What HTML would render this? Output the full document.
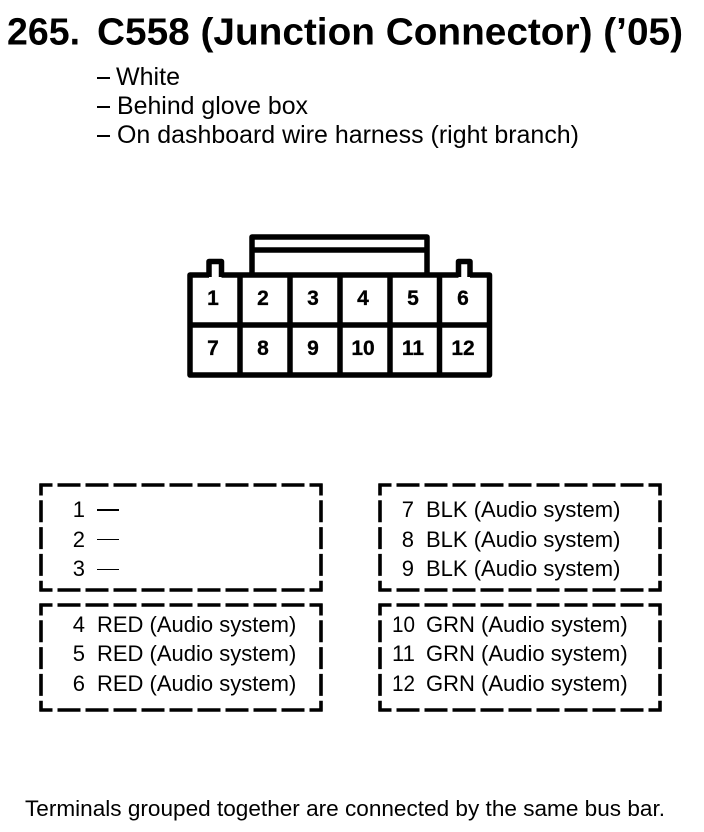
<!DOCTYPE html>
<html>
<head>
<meta charset="utf-8">
<style>
html,body{margin:0;padding:0;background:#fff;width:704px;height:832px;overflow:hidden}
svg{display:block}
text{font-family:"Liberation Sans",sans-serif;fill:#000}
.t{font-size:38px;font-weight:bold}
.s{font-size:24.8px}
.d{font-size:22px}
.n{font-size:22px;text-anchor:end}
.nn{font-size:22px}
.b{font-size:21px;font-weight:bold;text-anchor:middle;stroke:#000;stroke-width:.3px}
.dh{fill:none;stroke:#000;stroke-width:3.6px;stroke-dasharray:23 5;stroke-dashoffset:10}
.dv{fill:none;stroke:#000;stroke-width:3.6px;stroke-dasharray:22 4.8;stroke-dashoffset:10}
</style>
</head>
<body>
<svg width="704" height="832" viewBox="0 0 704 832" xmlns="http://www.w3.org/2000/svg">
<text class="t" x="7" y="44.5" textLength="73" lengthAdjust="spacingAndGlyphs">265.</text>
<text class="t" x="97" y="44.5" textLength="586" lengthAdjust="spacingAndGlyphs">C558 (Junction Connector) (’05)</text>
<rect x="97" y="77" width="13" height="2"/>
<rect x="97" y="106" width="13" height="2"/>
<rect x="97" y="135" width="13" height="2"/>
<text class="s" x="116" y="85" textLength="64" lengthAdjust="spacingAndGlyphs">White</text>
<text class="s" x="117" y="114" textLength="191" lengthAdjust="spacingAndGlyphs">Behind glove box</text>
<text class="s" x="117" y="143" textLength="462" lengthAdjust="spacingAndGlyphs">On dashboard wire harness (right branch)</text>

<g fill="none" stroke="#000" stroke-width="5.5" stroke-linejoin="round">
<path d="M209 275H190V375H489.5V275H470"/>
<path d="M221.5 275H458.5"/>
<path d="M209 277V261.5H221.5V277M458.5 277V261.5H470V277"/>
<path d="M252 275V237H427V275M252 250H427"/>
<path d="M190 325H489.5M240 275V375M290 275V375M340 275V375M390 275V375M439.5 275V375"/>
</g>
<text class="b" x="213" y="305">1</text><text class="b" x="263" y="305">2</text><text class="b" x="313" y="305">3</text><text class="b" x="363" y="305">4</text><text class="b" x="413" y="305">5</text><text class="b" x="463" y="305">6</text>
<text class="b" x="213" y="355">7</text><text class="b" x="263" y="355">8</text><text class="b" x="313" y="355">9</text><text class="b" x="363" y="355">10</text><text class="b" x="413" y="355">11</text><text class="b" x="463" y="355">12</text>

<path class="dh" d="M39.5 485H322.5M39.5 590H322.5M39.5 605H322.5M39.5 710H322.5M378.5 485H661.5M378.5 590H661.5M378.5 605H661.5M378.5 710H661.5"/>
<path class="dv" d="M41 483.5V591.5M321 483.5V591.5M41 603.5V711.5M321 603.5V711.5M380 483.5V591.5M660 483.5V591.5M380 603.5V711.5M660 603.5V711.5"/>

<text class="n" x="85" y="517">1</text><text class="n" x="85" y="547">2</text><text class="n" x="85" y="576">3</text>
<rect x="97" y="509" width="22" height="2"/><rect x="97" y="539" width="22" height="1"/><rect x="97" y="569" width="22" height="1"/>
<text class="n" x="85" y="632">4</text><text class="d" x="97" y="632">RED (Audio system)</text>
<text class="n" x="85" y="661">5</text><text class="d" x="97" y="661">RED (Audio system)</text>
<text class="n" x="85" y="691">6</text><text class="d" x="97" y="691">RED (Audio system)</text>

<text class="n" x="414" y="517">7</text><text class="d" x="426" y="517">BLK (Audio system)</text>
<text class="n" x="414" y="547">8</text><text class="d" x="426" y="547">BLK (Audio system)</text>
<text class="n" x="414" y="576">9</text><text class="d" x="426" y="576">BLK (Audio system)</text>
<text class="nn" x="392" y="632" textLength="23" lengthAdjust="spacingAndGlyphs">10</text><text class="d" x="426" y="632">GRN (Audio system)</text>
<text class="nn" x="392" y="661" textLength="23" lengthAdjust="spacingAndGlyphs">11</text><text class="d" x="426" y="661">GRN (Audio system)</text>
<text class="nn" x="392" y="691" textLength="23" lengthAdjust="spacingAndGlyphs">12</text><text class="d" x="426" y="691">GRN (Audio system)</text>

<text x="25" y="816" style="font-size:22px" textLength="640" lengthAdjust="spacingAndGlyphs">Terminals grouped together are connected by the same bus bar.</text>
</svg>
</body>
</html>
